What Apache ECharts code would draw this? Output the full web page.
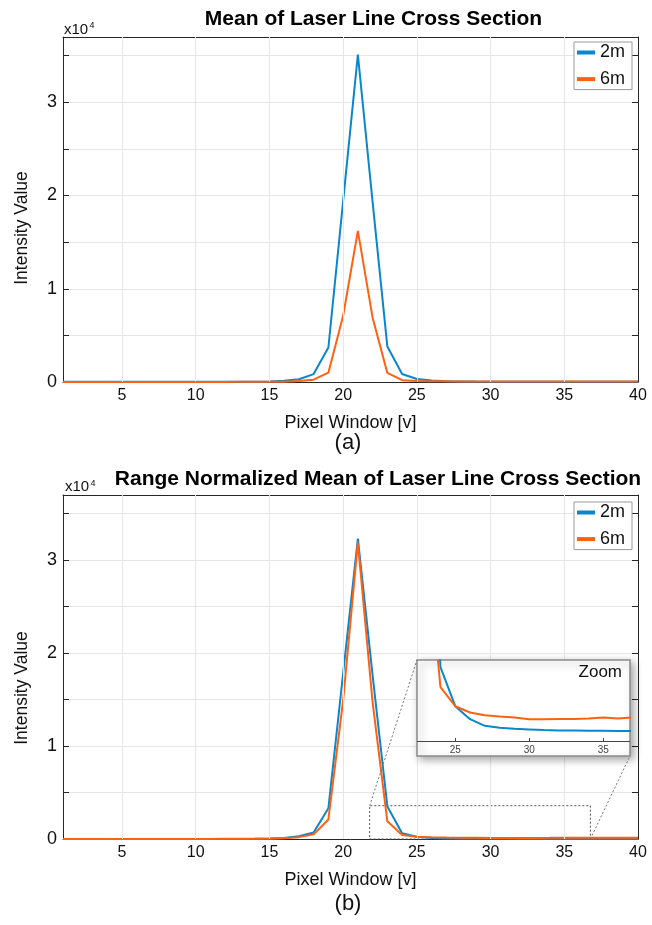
<!DOCTYPE html>
<html><head><meta charset="utf-8">
<script src="https://cdn.jsdelivr.net/npm/echarts@6/dist/echarts.min.js"></script>
<style>html,body{margin:0;padding:0;background:#fff}#c{width:652px;height:925px}</style>
</head><body><div id="c"></div>
<script>
// ---------------- data ----------------
const pixelWindow = [1,2,3,4,5,6,7,8,9,10,11,12,13,14,15,16,17,18,19,20,21,22,23,24,25,26,27,28,29,30,31,32,33,34,35,36,37,38,39,40];
const seriesNames = ['2m', '6m'];
// (a) mean intensity
const meanBlue2m = [15,15,15,16,16,17,17,18,19,20,22,25,30,40,60,130,300,850,3700,19400,35100,19300,3800,860,320,160,90,60,45,40,35,33,32,30,30,29,28,28,27,27];
const meanOrange6m = [8,8,8,8,8,9,9,9,10,10,11,12,14,18,25,40,120,250,1000,7100,16200,6900,970,200,120,80,70,65,62,60,60,60,60,61,62,61,62,62,62,62];
// (b) range normalized mean
const normBlue2m = [5,5,5,5,5,5,5,5,6,6,7,8,10,15,50,120,300,700,3300,17800,32300,17600,3500,609,241,119,56,37,28,22,16,13,12,10,9,8,8,8,8,8];
const normOrange6m = [10,10,10,10,10,10,11,11,12,12,13,14,16,20,30,80,200,500,2100,14900,31900,14700,1900,422,241,182,156,144,135,119,119,121,121,126,135,126,135,130,130,130];
// ticks
const xTickValues = [5,10,15,20,25,30,35,40];
const xGridValues = [5,10,15,20,25,30,35];
const yMax = 37000, yStep = 5000, yScale = 10000;
const insetXTicks = [25,30,35];
const insetYGrid = [0,400];
const insetXRange = [22.45, 36.77];
const insetYRange = [-87, 672];
const zoomBox = {x0: 21.8, x1: 36.77, y0: 0, y1: 3580};
const titleA = 'Mean of Laser Line Cross Section';
const titleB = 'Range Normalized Mean of Laser Line Cross Section';

// ---------------- style ----------------
const BLUE = '#0A86CC', ORANGE = '#FF6112';
const AX = '#262626', GRIDC = '#e6e6e6';
const FONT = '"Liberation Sans", Arial, Helvetica, sans-serif';

const chart = echarts.init(document.getElementById('c'), null, {renderer: 'canvas'});

const pair = (ys) => pixelWindow.map((x, i) => [x, ys[i]]);

function mainX(grid, pos, labels) {
  return {
    gridIndex: grid, type: 'value', position: pos, min: 1, max: 40,
    axisLine: {show: true, onZero: false, lineStyle: {color: AX, width: 1}},
    axisTick: {show: true, inside: true, length: 6, customValues: xTickValues, lineStyle: {color: AX}},
    axisLabel: {show: labels, customValues: xTickValues, fontSize: 16, color: '#111', margin: 6, fontFamily: FONT},
    splitLine: {show: false},
    name: labels ? 'Pixel Window [v]' : '', nameLocation: 'middle', nameGap: 32,
    nameTextStyle: {fontSize: 18, color: '#111', fontFamily: FONT}
  };
}
function mainY(grid, pos, labels) {
  return {
    gridIndex: grid, type: 'value', position: pos, min: 0, max: yMax, interval: yStep,
    axisLine: {show: true, onZero: false, lineStyle: {color: AX, width: 1}},
    axisTick: {show: true, inside: true, length: 6, lineStyle: {color: AX}},
    axisLabel: {show: labels, fontSize: 18, color: '#111', margin: 6, fontFamily: FONT,
      formatter: v => (v % yScale === 0 ? String(v / yScale) : '')},
    splitLine: {show: labels, lineStyle: {color: GRIDC, width: 1}}
  };
}
function dataLine(name, color, xi, yi, ys, z) {
  return {type: 'line', name, xAxisIndex: xi, yAxisIndex: yi, data: pair(ys), color,
    symbol: 'none', showSymbol: false, lineStyle: {width: 2, color}, z: z, animation: false, clip: true};
}
function gridHelper(xi, yi, xs, ys, z, extra) {
  const d = xs.map(v => ({xAxis: v})).concat(ys.map(v => ({yAxis: v})));
  return Object.assign({type: 'line', xAxisIndex: xi, yAxisIndex: yi, data: [], silent: true, z: z, animation: false,
    markLine: {silent: true, symbol: 'none', animation: false, label: {show: false},
      lineStyle: {color: GRIDC, width: 1, type: 'solid'}, data: d}}, extra || {});
}
function legendAt(top) {
  return {data: seriesNames, orient: 'vertical', right: 20, top: top, icon: 'rect', itemWidth: 18, itemHeight: 4,
    itemGap: 8.6, padding: [1.5, 7, 1.5, 3], backgroundColor: '#fff', borderColor: '#9a9a9a', borderWidth: 1,
    borderRadius: 0, selectedMode: false, textStyle: {fontSize: 18, lineHeight: 18, color: '#111', fontFamily: FONT}};
}

const option = {
  animation: false,
  backgroundColor: '#fff',
  grid: [
    {left: 63, top: 37, width: 575, height: 345},
    {left: 63, top: 495, width: 575, height: 344},
    {left: 417.5, top: 660.5, width: 212, height: 80.5}
  ],
  xAxis: [
    mainX(0, 'bottom', true), mainX(0, 'top', false),
    mainX(1, 'bottom', true), mainX(1, 'top', false),
    {gridIndex: 2, type: 'value', position: 'bottom', min: insetXRange[0], max: insetXRange[1], z: 21,
      axisLine: {show: true, onZero: false, lineStyle: {color: '#444', width: 1}},
      axisTick: {show: true, inside: true, length: 3, customValues: insetXTicks, lineStyle: {color: '#444'}},
      axisLabel: {show: true, customValues: insetXTicks, fontSize: 10, color: '#444', margin: 4, fontFamily: FONT},
      splitLine: {show: false}}
  ],
  yAxis: [
    mainY(0, 'left', true), mainY(0, 'right', false),
    mainY(1, 'left', true), mainY(1, 'right', false),
    {gridIndex: 2, type: 'value', min: insetYRange[0], max: insetYRange[1], show: false, splitLine: {show: false}}
  ],
  legend: [legendAt(42), legendAt(502)],
  series: [
    gridHelper(0, 0, xGridValues, [], 1),
    gridHelper(2, 2, xGridValues, [], 1, {
      markArea: {silent: true, animation: false, label: {show: false},
        itemStyle: {color: 'rgba(0,0,0,0)', borderColor: '#555', borderWidth: 1, borderType: [2, 2]},
        data: [[{coord: [zoomBox.x0, zoomBox.y0]}, {coord: [zoomBox.x1, zoomBox.y1]}]]}
    }),
    gridHelper(4, 4, insetXTicks, insetYGrid, 15),
    dataLine('2m', BLUE, 0, 0, meanBlue2m, 3),
    dataLine('6m', ORANGE, 0, 0, meanOrange6m, 4),
    dataLine('2m', BLUE, 2, 2, normBlue2m, 3),
    dataLine('6m', ORANGE, 2, 2, normOrange6m, 4),
    dataLine('2m', BLUE, 4, 4, normBlue2m, 20),
    dataLine('6m', ORANGE, 4, 4, normOrange6m, 21)
  ]
};
chart.setOption(option);

// ---------------- annotations ----------------
const insetFrame = {x: 417, y: 660, w: 213, h: 96};
const pTL = chart.convertToPixel({gridIndex: 1}, [zoomBox.x0, zoomBox.y1]);
const pBR = chart.convertToPixel({gridIndex: 1}, [zoomBox.x1, zoomBox.y0]);
const txt = (x, y, text, size, extra) => Object.assign({type: 'text', x, y, silent: true, z: 30,
  style: Object.assign({text, fontSize: size, fontFamily: FONT, fill: '#111', align: 'center', verticalAlign: 'middle'}, (extra && extra.style) || {})},
  extra ? {rotation: extra.rotation || 0} : {});

chart.setOption({
  graphic: [
    {type: 'rect', z: 10, silent: true, shape: {x: insetFrame.x, y: insetFrame.y, width: insetFrame.w, height: insetFrame.h},
      style: {fill: '#fff', stroke: '#8a8a8a', lineWidth: 1.5, shadowBlur: 8, shadowColor: 'rgba(0,0,0,0.35)', shadowOffsetX: 3, shadowOffsetY: 3}},
    {type: 'line', z: 12, silent: true, shape: {x1: pTL[0], y1: pTL[1], x2: insetFrame.x, y2: insetFrame.y},
      style: {stroke: '#777', lineWidth: 1, lineDash: [2, 2]}},
    {type: 'line', z: 12, silent: true, shape: {x1: pBR[0], y1: pBR[1], x2: insetFrame.x + insetFrame.w, y2: insetFrame.y + insetFrame.h},
      style: {stroke: '#777', lineWidth: 1, lineDash: [2, 2]}},
    txt(373.5, 19, titleA, 21, {style: {fontWeight: 'bold', fill: '#000'}}),
    txt(378, 479, titleB, 21, {style: {fontWeight: 'bold', fill: '#000'}}),
    txt(348, 443, '(a)', 22),
    txt(348, 904, '(b)', 22),
    txt(22, 228, 'Intensity Value', 17.5, {rotation: Math.PI / 2}),
    txt(22, 688, 'Intensity Value', 17.5, {rotation: Math.PI / 2}),
    txt(64, 29.5, 'x10', 15, {style: {align: 'left'}}),
    txt(89.5, 26, '4', 9, {style: {align: 'left'}}),
    txt(65, 487, 'x10', 15, {style: {align: 'left'}}),
    txt(90.5, 483.5, '4', 9, {style: {align: 'left'}}),
    txt(622, 672, 'Zoom', 17, {style: {align: 'right'}})
  ]
});
</script>
</body></html>
